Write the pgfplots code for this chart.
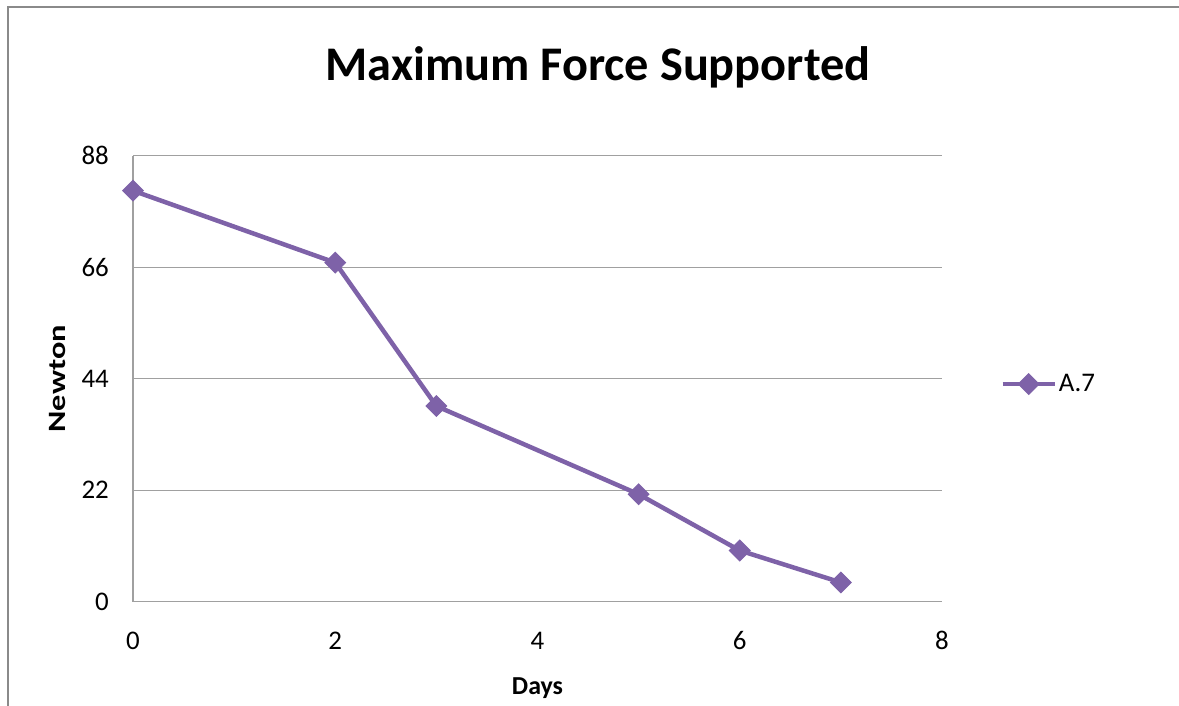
\documentclass[border=0pt]{standalone}
\usepackage{fontspec}
\setmainfont{Carlito}
\usepackage{pgfplots}
\pgfplotsset{compat=1.18}
\definecolor{excelpurple}{HTML}{7E62A8}
\definecolor{gridgray}{HTML}{A0A0A0}
\definecolor{framegray}{HTML}{8A8A8A}
\begin{document}
\begin{tikzpicture}
\useasboundingbox (0bp,0bp) rectangle (1179bp,706bp);
\draw[framegray, line width=2.5bp] (8bp,0bp) -- (8bp,699bp) -- (1179bp,699bp);
\node[font=\fontsize{48.5}{54}\selectfont\bfseries] at (598bp,639bp) {Maximum Force Supported};

\begin{axis}[
  at={(133bp,104.3bp)}, anchor=south west,
  scale only axis, width=809bp, height=446bp,
  xmin=0, xmax=8, ymin=0, ymax=88,
  xtick={0,2,4,6,8}, ytick={0,22,44,66,88},
  axis lines=left, axis line style={-, gridgray, line width=1.3bp},
  ymajorgrids, grid style={gridgray, line width=1.3bp},
  major tick length=0pt,
  clip=false,
  tick label style={font=\fontsize{27}{31}\selectfont},
  /pgf/number format/assume math mode=true,
  xticklabel style={anchor=center, yshift=-39bp},
  yticklabel style={anchor=east, inner sep=0pt, xshift=-24bp},
  xlabel={Days}, ylabel={\scalebox{1.3}[1]{Newton}},
  label style={font=\fontsize{26}{30}\selectfont\bfseries},
  xlabel style={at={(axis description cs:0.5,-0.193)}, anchor=center},
  ylabel style={at={(axis description cs:-0.0927,0.5)}, anchor=center,
    font=\fontsize{25}{30}\selectfont\bfseries},
  legend style={at={(1.072,0.488)}, anchor=west, draw=none, fill=none,
    font=\fontsize{27}{31}\selectfont, inner sep=0pt},
  legend image code/.code={
    \draw[mark repeat=2, mark phase=2, #1] plot coordinates {(0bp,0bp) (26bp,0bp) (52bp,0bp)};
  },
]
\addplot[color=excelpurple, line width=4.5bp, mark=square*, mark size=7.3bp,
  mark options={rotate=45, solid, line width=1bp}] coordinates {
  (0, 81.1)
  (2, 66.9)
  (3, 38.6)
  (5, 21.2)
  (6, 10.1)
  (7, 3.8)
};
\addlegendentry{A.7}
\end{axis}
\end{tikzpicture}
\end{document}
